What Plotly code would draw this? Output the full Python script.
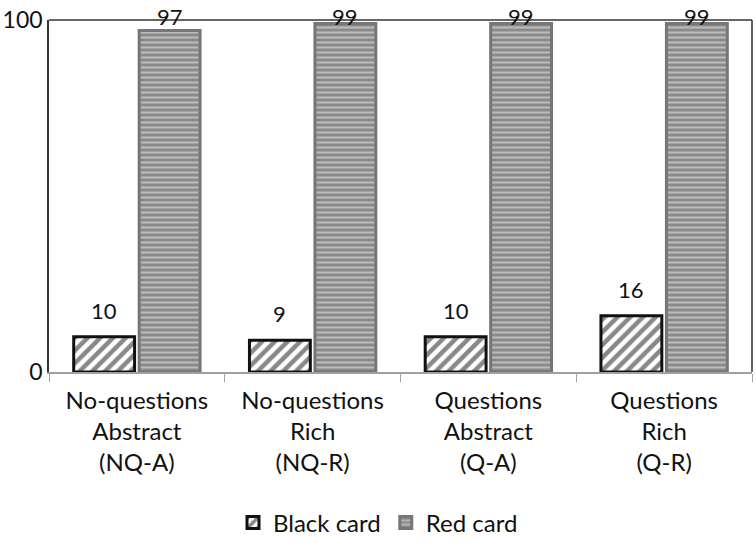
import plotly.graph_objects as go

categories = ["No-questions<br>Abstract<br>(NQ-A)", "No-questions<br>Rich<br>(NQ-R)",
              "Questions<br>Abstract<br>(Q-A)", "Questions<br>Rich<br>(Q-R)"]
black_card = [10, 9, 10, 16]
red_card = [97, 99, 99, 99]

FONT = "Lato, Open Sans, sans-serif"
W, H = 756, 543
ML, MR, MT, MB = 49, 4, 20, 171
BARGAP = 0.255
LABEL_SIZE = 22

fig = go.Figure()
fig.add_trace(go.Bar(
    name="Black card", x=categories, y=black_card,
    marker=dict(color="white", line=dict(color="#111", width=3),
                pattern=dict(shape="/", fgcolor="#111", bgcolor="white", size=9, solidity=0.5)),
))
fig.add_trace(go.Bar(
    name="Red card", x=categories, y=red_card,
    marker=dict(color="#8c8c8c", line=dict(color="#767676", width=3),
                pattern=dict(shape="-", fgcolor="#f0f0f0", bgcolor="#8a8a8a", size=5, solidity=0.4)),
))

# value labels (Excel-style "outside end", clamped to the chart top)
plot_h = H - MT - MB
cat_w = (W - ML - MR) / len(categories)
slot = cat_w * (1 - BARGAP) / 2
annotations = []
for series, sign in ((black_card, -1), (red_card, 1)):
    for cat, v in zip(categories, series):
        bar_top = MT + (1 - v / 100) * plot_h
        ys = min(11, bar_top - 32)
        annotations.append(dict(x=cat, y=v, xref="x", yref="y", text=str(v),
                                showarrow=False, yanchor="bottom", xshift=sign * slot / 2,
                                yshift=ys, font=dict(size=LABEL_SIZE, color="#111")))

fig.update_layout(
    width=W, height=H,
    margin=dict(l=ML, r=MR, t=MT, b=MB),
    paper_bgcolor="white", plot_bgcolor="white",
    barmode="group", bargap=BARGAP, bargroupgap=0.07,
    font=dict(family=FONT, size=24, color="#111"),
    showlegend=True,
    legend=dict(orientation="h", x=0.5, xanchor="center", xref="container",
                y=0.037, yanchor="middle", yref="container",
                font=dict(size=24, color="#111"), itemwidth=30),
    xaxis=dict(showline=True, linecolor="#a0a0a0", linewidth=1.5, automargin=False,
               ticks="outside", tickson="boundaries", ticklen=8, tickcolor="#a0a0a0",
               ticklabelstandoff=6,
               tickfont=dict(size=24, color="#111"), showgrid=False),
    yaxis=dict(range=[0, 100], tickvals=[0, 100], showgrid=False, zeroline=False,
               showline=True, linecolor="#333", linewidth=1.5, ticks="", automargin=False,
               tickfont=dict(size=23, color="#111")),
    annotations=annotations,
    shapes=[
        dict(type="line", xref="paper", yref="paper", x0=0, x1=1, y0=1, y1=1,
             line=dict(color="#333", width=1.5)),
        dict(type="line", xref="paper", yref="paper", x0=1, x1=1, y0=0, y1=1,
             line=dict(color="#333", width=1.5)),
    ],
)

fig.write_html("out.html", config={"displayModeBar": False})

with open("out.html", "r", encoding="utf-8") as f:
    html = f.read()
html = html.replace("<body>", '<body style="margin:0;padding:0;overflow:hidden">', 1)
with open("out.html", "w", encoding="utf-8") as f:
    f.write(html)
